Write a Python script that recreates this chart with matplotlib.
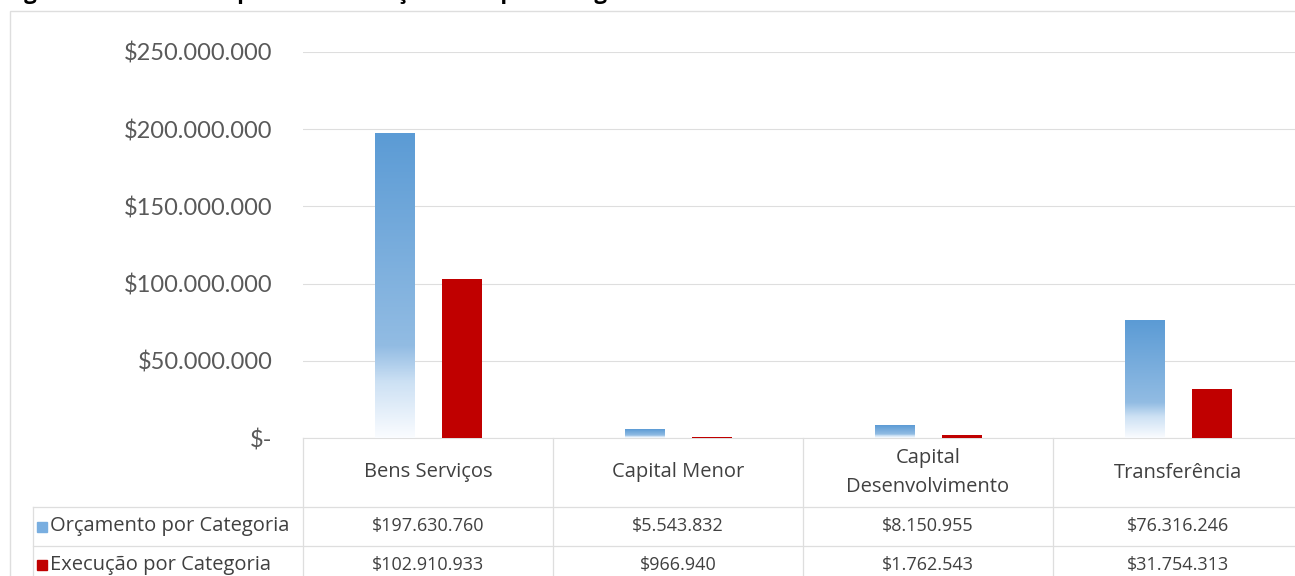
import numpy as np
import matplotlib
matplotlib.use("Agg")
import matplotlib.pyplot as plt
from matplotlib.patches import Rectangle
from matplotlib import transforms

categorias = ["Bens Serviços", "Capital Menor", "Capital\nDesenvolvimento", "Transferência"]
orcamento = [197630760, 5543832, 8150955, 76316246]
execucao = [102910933, 966940, 1762543, 31754313]
series = ["Orçamento por Categoria", "Execução por Categoria"]
yticks = [0, 50e6, 100e6, 150e6, 200e6, 250e6]
titulo = "Figura 4: Gráfico comparativo do Orçamento por Categoria"

W, H = 1295, 576
plt.rcParams['font.family'] = ['Lato', 'DejaVu Sans']

BLUE = "#5B9BD5"
RED = "#C00000"
GRID = "#dedede"
TXT = "#404040"
TFONT = ['Open Sans', 'DejaVu Sans']


def fy(py):
    return 1 - py / H


def fmt(v):
    if v == 0:
        return "$-"
    return "$" + f"{v:,.0f}".replace(",", ".")


fig = plt.figure(figsize=(W / 100, H / 100), dpi=100)
ax = fig.add_axes([303 / W, fy(438), 1000 / W, (438 - 52) / H])

x = np.arange(len(categorias))
width = 0.16
off = 0.134

# gradient blue bars
stops = [0, 0.18, 0.3, 1]
cols = np.array([[250, 252, 255], [205, 225, 244], [146, 188, 227], [91, 155, 213]]) / 255
t = np.linspace(0, 1, 200)
grad = np.stack([np.interp(t, stops, cols[:, k]) for k in range(3)] + [np.ones_like(t)], axis=1)
grad = grad[:, None, :]

bars = ax.bar(x - off, orcamento, width, color="none", edgecolor="none", zorder=3)
for b in bars:
    im = ax.imshow(grad, extent=[b.get_x(), b.get_x() + b.get_width(), 0, b.get_height()],
                   origin="lower", aspect="auto", zorder=3)
    im.set_clip_path(b)
ax.bar(x + off, execucao, width, color=RED, zorder=3)

ax.set_xlim(-0.5, 3.5)
ax.set_ylim(0, 250e6)
ax.set_yticks(yticks)
ax.set_yticklabels([fmt(v) for v in yticks], fontsize=17, color="#595959")
ax.tick_params(axis="y", length=0, pad=22)
ax.set_xticks([])
ax.yaxis.grid(True, color=GRID, lw=0.8)
ax.set_axisbelow(True)
for s in ["top", "right", "left"]:
    ax.spines[s].set_visible(False)
ax.spines["bottom"].set_color(GRID)

# data table under the chart
tr = transforms.blended_transform_factory(ax.transData, fig.transFigure)
left = -0.5 + (33 - 303) / 250
rows = [438, 507, 546, 590]
lk = dict(color=GRID, lw=0.9, transform=tr, clip_on=False)
for i in range(len(categorias) + 1):
    ax.plot([i - 0.5, i - 0.5], [fy(438), fy(590)], **lk)
ax.plot([left, left], [fy(507), fy(590)], **lk)
for r in rows[1:3]:
    ax.plot([left, 3.5], [fy(r), fy(r)], **lk)

fs_lab = 14.5
fs_val = 13
for i, c in enumerate(categorias):
    ax.text(i, fy((438 + 507) / 2), c, ha="center", va="center", fontsize=fs_lab,
            color=TXT, transform=tr, linespacing=1.6, family=TFONT)
    ax.text(i, fy((507 + 546) / 2), fmt(orcamento[i]), ha="center", va="center",
            fontsize=fs_val, color=TXT, transform=tr, family=TFONT)
    ax.text(i, fy((546 + 584) / 2), fmt(execucao[i]), ha="center", va="center",
            fontsize=fs_val, color=TXT, transform=tr, family=TFONT)

for (name, col, r0, r1) in [(series[0], "#79aee0", 507, 546), (series[1], RED, 546, 584)]:
    mid = (r0 + r1) / 2
    fig.add_artist(Rectangle((37 / W, fy(mid + 5)), 10 / W, 10 / H, color=col,
                             transform=fig.transFigure))
    fig.text(50 / W, fy(mid), name, ha="left", va="center", fontsize=fs_lab, color=TXT,
             family=TFONT)

# chart border and clipped title
fig.add_artist(Rectangle((10 / W, -0.1), 2, fy(11) + 0.1, fill=False, edgecolor=GRID,
                         lw=1, transform=fig.transFigure))
fig.text(5 / W, fy(-0.5), titulo, fontsize=16, fontweight="bold", va="baseline",
         family=TFONT)

fig.savefig("out.png", dpi=100)
